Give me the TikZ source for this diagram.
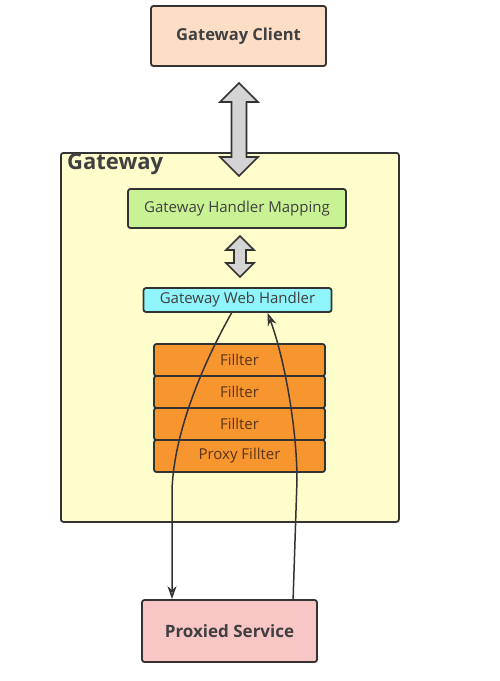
\documentclass[tikz,border=0pt]{standalone}
\usepackage{fontspec}
\setmainfont{Open Sans}
\usetikzlibrary{arrows.meta,calc}
\definecolor{edgec}{HTML}{333333}
\definecolor{clientc}{HTML}{FCDDC6}
\definecolor{gwc}{HTML}{FEFDCB}
\definecolor{mapc}{HTML}{C8F294}
\definecolor{webc}{HTML}{8FF5FA}
\definecolor{filc}{HTML}{F7952F}
\definecolor{psc}{HTML}{F9C6C6}
\definecolor{filtext}{HTML}{5A3616}
\definecolor{arrc}{HTML}{D4D4D4}
\tikzset{
  box/.style={draw=edgec, line width=1.8pt, rounded corners=2.5pt, inner sep=0pt, font=\fontsize{15}{17}\selectfont, text=black!75},
  filbox/.style={box, fill=filc, minimum width=171pt, minimum height=32pt, text=filtext},
  blockarrow/.style={draw=edgec, line width=1.6pt, fill=arrc, line join=miter},
  conn/.style={draw=edgec, line width=1.5pt, -{Stealth[length=13pt,width=9pt,fill=gray!70]}},
}
\begin{document}
\begin{tikzpicture}[x=1pt,y=-1pt]
\useasboundingbox[fill=white] (0,0) rectangle (500,681);
% Gateway container
\node[box, fill=gwc, minimum width=338pt, minimum height=369pt, anchor=north west] (gw) at (60,152) {};
\node[anchor=north west, inner sep=0pt, font=\fontsize{22}{24}\selectfont\bfseries, text=black!75] (gwlabel) at (67,153.5) {Gateway};
% Nodes
\node[box, fill=clientc, minimum width=175pt, minimum height=60pt, font=\fontsize{16.5}{18}\selectfont\bfseries] (client) at (238.5,36) {Gateway Client};
\node[box, fill=mapc, minimum width=218pt, minimum height=39pt] (map) at (237,208.5) {Gateway Handler Mapping};
\node[box, fill=webc, minimum width=188pt, minimum height=24pt, font=\fontsize{15}{16}\selectfont] (web) at (237.5,300) {Gateway Web Handler};
\node[filbox] (f1) at (239.5,360) {Fillter};
\node[filbox] (f2) at (239.5,392) {Fillter};
\node[filbox] (f3) at (239.5,424) {Fillter};
\node[filbox] (f4) at (239.5,456) {Proxy Fillter};
\node[box, fill=psc, minimum width=175pt, minimum height=62pt, font=\fontsize{17}{19}\selectfont\bfseries] (ps) at (229.5,631) {Proxied Service};
% big double arrow
\path[blockarrow] (239,83) -- (258,102) -- (246.5,102) -- (246.5,157) -- (258,157) -- (239,176)
  -- (220,157) -- (231.5,157) -- (231.5,102) -- (220,102) -- cycle;
% small double arrow
\path[blockarrow] (240,236) -- (254,250) -- (246,250) -- (246,263) -- (254,263) -- (240,277)
  -- (226,263) -- (234,263) -- (234,250) -- (226,250) -- cycle;
% connectors
\coordinate (lstart) at ($(web.south west)+(89,0)$);
\coordinate (lmid) at (172,490);
\coordinate (rstart) at ($(ps.north west)+(152,0)$);
\coordinate (rmid) at (297,480);
\coordinate (rend) at ($(web.south west)+(125,0)$);
\draw[conn] (lstart) .. controls (205,360) and (174,430) .. (lmid) -- (lmid |- ps.north);
\draw[conn] (rstart) -- (rmid) .. controls (297,430) and (285,360) .. (rend);
\end{tikzpicture}
\end{document}
